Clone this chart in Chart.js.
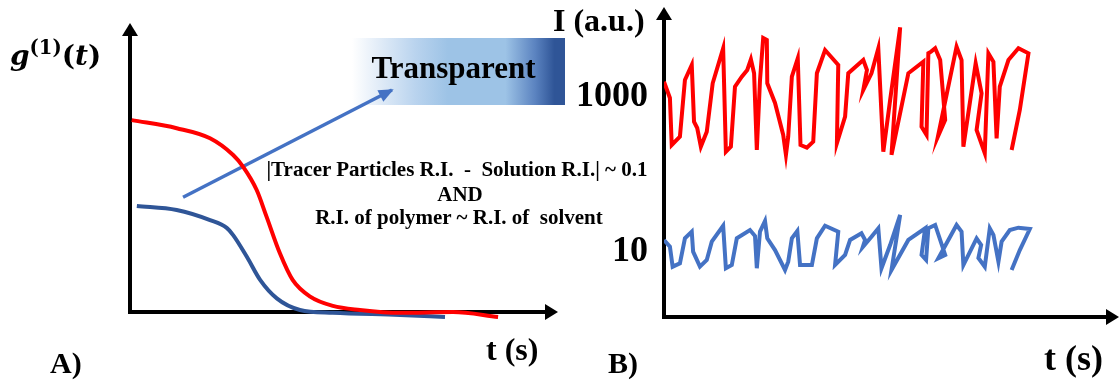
<!DOCTYPE html>
<html><head><meta charset="utf-8">
<script src="https://cdn.jsdelivr.net/npm/chart.js@4.4.1/dist/chart.umd.min.js"></script>
<style>
html,body{margin:0;padding:0;background:#fff;width:1119px;height:386px;overflow:hidden;position:relative;font-family:"Liberation Serif","Times New Roman",serif;}
.lbl{position:absolute;white-space:pre;font-weight:bold;color:#000;line-height:1;}
#boxT{position:absolute;left:352px;top:38px;width:213px;height:67px;
 background:linear-gradient(to right,#ffffff 0%,#e3edf8 12%,#b9d3ee 30%,#9dc3e6 45%,#9dc3e6 72%,#5b83c0 86%,#2f5597 95%,#2f5597 100%);}
#wrapA{position:absolute;left:0;top:0;width:565px;height:386px;}
#wrapB{position:absolute;left:540px;top:0;width:579px;height:386px;}
</style></head><body>
<div id="boxT"></div>
<div id="wrapA"><canvas id="cA"></canvas></div>
<div id="wrapB"><canvas id="cB"></canvas></div>
<div id="labels"></div>
<script>
// ---------- Panel A: g1(t) decay curves ----------
const redA_t  = [0.4, 10.9, 18.7, 24.1, 26.4, 29.6, 31.9, 35.0, 38.0, 42.1, 47.4, 53.7, 63.1, 75.5, 86.0];
const redA_g  = [0.664, 0.636, 0.601, 0.543, 0.503, 0.422, 0.330, 0.204, 0.111, 0.053, 0.021, 0.007, -0.003, 0.0, -0.017];
const blueA_t = [1.6, 10.9, 18.7, 22.6, 24.1, 27.3, 30.4, 34.3, 39.7, 47.4, 63.1, 73.6];
const blueA_g = [0.367, 0.353, 0.318, 0.291, 0.266, 0.191, 0.111, 0.047, 0.007, -0.003, -0.010, -0.017];
const arrowA_t = [12.4, 61.2];
const arrowA_g = [0.397, 0.768];

// ---------- Panel B: intensity traces (log scale) ----------
const redB_t = [0, 1.3, 1.7, 3.5, 4.6, 6.1, 6.6, 7.3, 8.1, 9.4, 10.7, 13.0, 13.6, 14.7, 15.6, 17.1, 18.3, 19.1, 19.8, 20.4,
  21.1, 21.8, 22.6, 22.7, 24.4, 26.2, 26.8, 27.3, 28.1, 29.4, 30.0, 31.4, 32.8, 33.6, 35.4, 38.3, 38.0, 39.8, 40.5,
  43.8, 44.6, 43.8, 45.6, 47.1, 48.2, 49.7, 51.9, 50.0, 53.7, 57.0, 56.6, 57.7, 58.1, 58.7, 59.6, 60.7, 61.8, 60.2,
  64.3, 65.4, 65.8, 68.5, 69.8, 68.7, 70.5, 71.3, 72.4, 73.1, 73.8, 75.7, 77.9, 80.1, 78.2, 76.4];
const redB_I = [1575, 971, 240, 308, 1655, 2588, 480, 398, 229, 356, 1502, 4246, 197, 229, 1358, 1828, 2230, 3062, 2023, 207,
  1655, 5768, 5433, 1502, 837, 324, 179, 308, 1828, 3155, 240, 222, 265, 2023, 4036, 2588, 253, 557, 2023,
  2999, 2230, 1231, 2023, 4246, 197, 915, 7925, 179, 2023, 2851, 414, 324, 3664, 3845, 4246, 2999, 505, 308,
  4456, 2999, 229, 2722, 1117, 375, 188, 3664, 2851, 293, 1358, 2999, 4246, 3664, 679, 207];
const blueB_t = [0, 1.3, 1.9, 3.5, 4.6, 6.1, 6.4, 7.9, 9.4, 10.5, 13.0, 13.6, 14.9, 16.0, 18.9, 20.0, 20.4, 21.1, 22.2, 22.7,
  24.4, 26.6, 27.3, 28.1, 29.3, 29.9, 32.5, 33.6, 35.4, 38.3, 37.6, 39.8, 40.9, 43.4, 44.2, 43.7, 45.6, 47.1, 47.8,
  49.7, 51.9, 50.0, 53.7, 57.4, 56.6, 57.6, 58.1, 59.6, 61.8, 60.3, 64.3, 65.4, 65.8, 68.7, 69.7, 69.1, 70.5, 71.6,
  72.4, 73.5, 74.2, 76.0, 77.9, 80.4, 78.2, 76.4];
const blueB_I = [14.3, 11.7, 6.46, 7.14, 15.0, 18.3, 10.1, 6.46, 7.88, 13.6, 21.8, 6.17, 6.79, 15.0, 19.2, 16.1, 6.17, 18.3, 25.1, 15.0,
  10.6, 5.86, 7.50, 15.0, 18.7, 6.79, 6.79, 15.0, 21.8, 18.3, 6.79, 9.15, 14.3, 17.4, 14.3, 11.6, 15.7, 20.2, 6.17,
  12.3, 30.0, 5.86, 14.3, 20.2, 9.15, 7.88, 20.2, 22.3, 9.15, 8.30, 22.3, 18.3, 6.79, 15.0, 12.3, 8.37, 6.46, 20.2,
  16.6, 7.50, 13.6, 19.2, 20.6, 19.8, 10.6, 5.86];
const intensityTicks = [10, 1000];

const zip = (xs, ys) => xs.map((x, i) => ({x: x, y: ys[i]}));

const arrowAxes = {
  id: 'arrowAxes',
  beforeDatasetsDraw(chart, args, o) {
    const {ctx, chartArea: a} = chart;
    const x0 = chart.scales.x.getPixelForValue(0);
    const y0 = a.bottom;
    ctx.save();
    ctx.strokeStyle = '#000'; ctx.fillStyle = '#000'; ctx.lineWidth = o.lw; ctx.lineCap = 'butt';
    ctx.beginPath(); ctx.moveTo(x0, y0 + o.lw / 2); ctx.lineTo(x0, a.top + o.head - 1); ctx.stroke();
    ctx.beginPath(); ctx.moveTo(x0 - o.lw / 2, y0); ctx.lineTo(a.right - o.head + 1, y0); ctx.stroke();
    ctx.beginPath(); ctx.moveTo(x0, a.top); ctx.lineTo(x0 - o.half, a.top + o.head); ctx.lineTo(x0 + o.half, a.top + o.head); ctx.closePath(); ctx.fill();
    ctx.beginPath(); ctx.moveTo(a.right, y0); ctx.lineTo(a.right - o.head, y0 - o.half); ctx.lineTo(a.right - o.head, y0 + o.half); ctx.closePath(); ctx.fill();
    ctx.restore();
  }
};

const arrowTip = {
  id: 'arrowTip',
  afterDatasetsDraw(chart) {
    chart.data.datasets.forEach((ds, i) => {
      if (!ds.arrowHead) return;
      const pts = chart.getDatasetMeta(i).data;
      const p1 = pts[pts.length - 2], p2 = pts[pts.length - 1];
      const ang = Math.atan2(p2.y - p1.y, p2.x - p1.x);
      const L = 13, W = 6.5;
      const ctx = chart.ctx;
      ctx.save();
      ctx.fillStyle = ds.borderColor;
      ctx.translate(p2.x, p2.y); ctx.rotate(ang);
      ctx.beginPath(); ctx.moveTo(2, 0); ctx.lineTo(-L, -W); ctx.lineTo(-L, W); ctx.closePath(); ctx.fill();
      ctx.restore();
    });
  }
};

const common = {
  responsive: true, maintainAspectRatio: false, animation: false,
  plugins: {legend: {display: false}, tooltip: {enabled: false}},
  elements: {point: {radius: 0, hoverRadius: 0}}
};

new Chart(document.getElementById('cA'), {
  type: 'scatter',
  data: {datasets: [
    {data: zip(redA_t, redA_g), showLine: true, borderColor: '#ff0000', borderWidth: 4, cubicInterpolationMode: 'monotone', clip: false},
    {data: zip(blueA_t, blueA_g), showLine: true, borderColor: '#2f5597', borderWidth: 4, cubicInterpolationMode: 'monotone', clip: false},
    {data: zip(arrowA_t, arrowA_g), showLine: true, borderColor: '#4472c4', borderWidth: 3.5, clip: false, arrowHead: true}
  ]},
  options: Object.assign({}, common, {
    layout: {padding: {left: 130, right: 7, top: 23, bottom: 74}},
    scales: {
      x: {type: 'linear', min: 0, max: 100, display: false, bounds: 'data'},
      y: {type: 'linear', min: 0, max: 1, display: false, bounds: 'data'}
    },
    plugins: Object.assign({}, common.plugins, {arrowAxes: {lw: 4, head: 13, half: 8}})
  }),
  plugins: [arrowAxes, arrowTip]
});

new Chart(document.getElementById('cB'), {
  type: 'scatter',
  data: {datasets: [
    {data: zip(redB_t, redB_I), showLine: true, borderColor: '#ff0000', borderWidth: 4, tension: 0, borderJoinStyle: 'miter'},
    {data: zip(blueB_t, blueB_I), showLine: true, borderColor: '#4472c4', borderWidth: 4, tension: 0, borderJoinStyle: 'miter'}
  ]},
  options: Object.assign({}, common, {
    layout: {padding: {left: 0, right: 0, top: 7, bottom: 69}},
    scales: {
      x: {type: 'linear', min: 0, max: 100, display: false, bounds: 'data'},
      y: {
        type: 'logarithmic', min: 1.449, max: 14490, bounds: 'data',
        afterBuildTicks: s => { s.ticks = intensityTicks.map(v => ({value: v})); },
        afterFit: s => { s.width = 124; s.paddingTop = 0; s.paddingBottom = 0; },
        grid: {display: false, drawTicks: false},
        border: {display: false},
        ticks: {callback: v => String(v), color: '#000', padding: 16, autoSkip: false, maxRotation: 0,
          font: {family: "'Liberation Serif', 'Times New Roman', serif", size: 36, weight: 'bold'}}
      }
    },
    plugins: Object.assign({}, common.plugins, {arrowAxes: {lw: 4, head: 13, half: 8}})
  }),
  plugins: [arrowAxes]
});

// ---------- text annotations ----------
const L = document.getElementById('labels');
function place(html, x, base, size, align, family) {
  const d = document.createElement('div');
  d.className = 'lbl';
  d.innerHTML = html;
  d.style.fontSize = size + 'px';
  if (family) d.style.fontFamily = family;
  d.style.top = (base - 0.84 * size) + 'px';
  if (align === 'center') { d.style.left = x + 'px'; d.style.transform = 'translateX(-50%)'; }
  else d.style.left = x + 'px';
  L.appendChild(d);
  return d;
}
place('<i>g</i><sup style="font-size:0.7em;vertical-align:0.55em;font-style:normal">(1)</sup>(<i>t</i>)', 10, 62, 28, 'left', "'DejaVu Serif', serif");
place('Transparent', 453.5, 78, 31, 'center');
place('|Tracer Particles R.I.  -  Solution R.I.| ~ 0.1', 457, 177, 21, 'center');
place('AND', 460, 202, 21, 'center');
place('R.I. of polymer ~ R.I. of  solvent', 459, 225, 21, 'center');
place('A)', 50, 373, 30, 'left');
place('t (s)', 486, 360, 32, 'left');
place('I (a.u.)', 553, 31, 32, 'left');
place('B)', 608, 373, 30, 'left');
place('t (s)', 1044, 370, 36, 'left');
</script>
</body></html>
